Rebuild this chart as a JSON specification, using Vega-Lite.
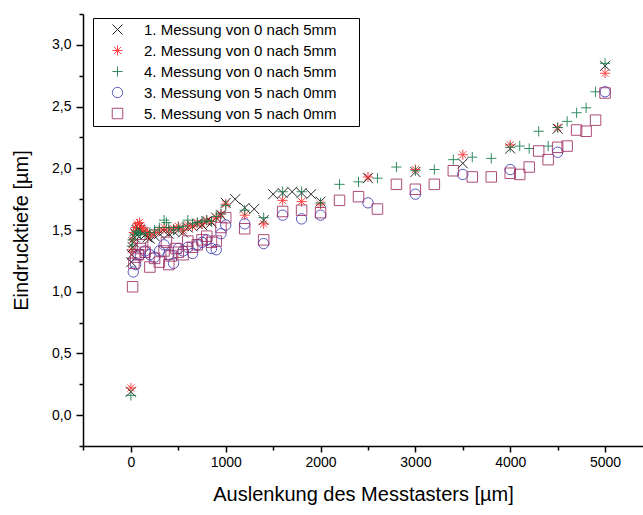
{
  "$schema": "https://vega.github.io/schema/vega-lite/v6.json",
  "width": 560,
  "height": 432,
  "autosize": "none",
  "padding": {"left": 83, "top": 14, "right": 0, "bottom": 69},
  "background": "white",
  "config": {
    "view": {"stroke": null},
    "font": "Liberation Sans"
  },
  "datasets": {
    "pts": [
      {"series": "1. Messung von 0 nach 5mm", "x": 0, "y": 0.19},
      {"series": "1. Messung von 0 nach 5mm", "x": 5, "y": 1.24},
      {"series": "1. Messung von 0 nach 5mm", "x": 10, "y": 1.30},
      {"series": "1. Messung von 0 nach 5mm", "x": 20, "y": 1.36},
      {"series": "1. Messung von 0 nach 5mm", "x": 30, "y": 1.40},
      {"series": "1. Messung von 0 nach 5mm", "x": 40, "y": 1.44},
      {"series": "1. Messung von 0 nach 5mm", "x": 50, "y": 1.47},
      {"series": "1. Messung von 0 nach 5mm", "x": 60, "y": 1.50},
      {"series": "1. Messung von 0 nach 5mm", "x": 80, "y": 1.52},
      {"series": "1. Messung von 0 nach 5mm", "x": 100, "y": 1.50},
      {"series": "1. Messung von 0 nach 5mm", "x": 125, "y": 1.48},
      {"series": "1. Messung von 0 nach 5mm", "x": 150, "y": 1.46},
      {"series": "1. Messung von 0 nach 5mm", "x": 175, "y": 1.44},
      {"series": "1. Messung von 0 nach 5mm", "x": 200, "y": 1.43},
      {"series": "1. Messung von 0 nach 5mm", "x": 250, "y": 1.45},
      {"series": "1. Messung von 0 nach 5mm", "x": 300, "y": 1.47},
      {"series": "1. Messung von 0 nach 5mm", "x": 350, "y": 1.49},
      {"series": "1. Messung von 0 nach 5mm", "x": 400, "y": 1.47},
      {"series": "1. Messung von 0 nach 5mm", "x": 450, "y": 1.49},
      {"series": "1. Messung von 0 nach 5mm", "x": 500, "y": 1.50},
      {"series": "1. Messung von 0 nach 5mm", "x": 550, "y": 1.48},
      {"series": "1. Messung von 0 nach 5mm", "x": 600, "y": 1.52},
      {"series": "1. Messung von 0 nach 5mm", "x": 650, "y": 1.53},
      {"series": "1. Messung von 0 nach 5mm", "x": 700, "y": 1.55},
      {"series": "1. Messung von 0 nach 5mm", "x": 750, "y": 1.54},
      {"series": "1. Messung von 0 nach 5mm", "x": 800, "y": 1.57},
      {"series": "1. Messung von 0 nach 5mm", "x": 850, "y": 1.56},
      {"series": "1. Messung von 0 nach 5mm", "x": 900, "y": 1.60},
      {"series": "1. Messung von 0 nach 5mm", "x": 950, "y": 1.62},
      {"series": "1. Messung von 0 nach 5mm", "x": 1000, "y": 1.72},
      {"series": "1. Messung von 0 nach 5mm", "x": 1100, "y": 1.75},
      {"series": "1. Messung von 0 nach 5mm", "x": 1200, "y": 1.68},
      {"series": "1. Messung von 0 nach 5mm", "x": 1300, "y": 1.67},
      {"series": "1. Messung von 0 nach 5mm", "x": 1400, "y": 1.58},
      {"series": "1. Messung von 0 nach 5mm", "x": 1500, "y": 1.79},
      {"series": "1. Messung von 0 nach 5mm", "x": 1600, "y": 1.80},
      {"series": "1. Messung von 0 nach 5mm", "x": 1700, "y": 1.81},
      {"series": "1. Messung von 0 nach 5mm", "x": 1800, "y": 1.80},
      {"series": "1. Messung von 0 nach 5mm", "x": 1900, "y": 1.79},
      {"series": "1. Messung von 0 nach 5mm", "x": 2000, "y": 1.73},
      {"series": "1. Messung von 0 nach 5mm", "x": 2500, "y": 1.92},
      {"series": "1. Messung von 0 nach 5mm", "x": 3000, "y": 1.97},
      {"series": "1. Messung von 0 nach 5mm", "x": 3500, "y": 2.04},
      {"series": "1. Messung von 0 nach 5mm", "x": 4000, "y": 2.16},
      {"series": "1. Messung von 0 nach 5mm", "x": 4500, "y": 2.32},
      {"series": "1. Messung von 0 nach 5mm", "x": 5000, "y": 2.83},

      {"series": "2. Messung von 0 nach 5mm", "x": 0, "y": 0.22},
      {"series": "2. Messung von 0 nach 5mm", "x": 10, "y": 1.34},
      {"series": "2. Messung von 0 nach 5mm", "x": 20, "y": 1.42},
      {"series": "2. Messung von 0 nach 5mm", "x": 30, "y": 1.48},
      {"series": "2. Messung von 0 nach 5mm", "x": 50, "y": 1.52},
      {"series": "2. Messung von 0 nach 5mm", "x": 70, "y": 1.55},
      {"series": "2. Messung von 0 nach 5mm", "x": 90, "y": 1.56},
      {"series": "2. Messung von 0 nach 5mm", "x": 110, "y": 1.52},
      {"series": "2. Messung von 0 nach 5mm", "x": 130, "y": 1.50},
      {"series": "2. Messung von 0 nach 5mm", "x": 150, "y": 1.49},
      {"series": "2. Messung von 0 nach 5mm", "x": 175, "y": 1.47},
      {"series": "2. Messung von 0 nach 5mm", "x": 200, "y": 1.46},
      {"series": "2. Messung von 0 nach 5mm", "x": 250, "y": 1.48},
      {"series": "2. Messung von 0 nach 5mm", "x": 300, "y": 1.50},
      {"series": "2. Messung von 0 nach 5mm", "x": 350, "y": 1.52},
      {"series": "2. Messung von 0 nach 5mm", "x": 400, "y": 1.50},
      {"series": "2. Messung von 0 nach 5mm", "x": 450, "y": 1.51},
      {"series": "2. Messung von 0 nach 5mm", "x": 500, "y": 1.53},
      {"series": "2. Messung von 0 nach 5mm", "x": 550, "y": 1.50},
      {"series": "2. Messung von 0 nach 5mm", "x": 600, "y": 1.54},
      {"series": "2. Messung von 0 nach 5mm", "x": 650, "y": 1.53},
      {"series": "2. Messung von 0 nach 5mm", "x": 700, "y": 1.56},
      {"series": "2. Messung von 0 nach 5mm", "x": 750, "y": 1.55},
      {"series": "2. Messung von 0 nach 5mm", "x": 800, "y": 1.58},
      {"series": "2. Messung von 0 nach 5mm", "x": 850, "y": 1.57},
      {"series": "2. Messung von 0 nach 5mm", "x": 900, "y": 1.60},
      {"series": "2. Messung von 0 nach 5mm", "x": 950, "y": 1.63},
      {"series": "2. Messung von 0 nach 5mm", "x": 1000, "y": 1.71},
      {"series": "2. Messung von 0 nach 5mm", "x": 1200, "y": 1.62},
      {"series": "2. Messung von 0 nach 5mm", "x": 1400, "y": 1.55},
      {"series": "2. Messung von 0 nach 5mm", "x": 1600, "y": 1.74},
      {"series": "2. Messung von 0 nach 5mm", "x": 1800, "y": 1.73},
      {"series": "2. Messung von 0 nach 5mm", "x": 2000, "y": 1.71},
      {"series": "2. Messung von 0 nach 5mm", "x": 2500, "y": 1.93},
      {"series": "2. Messung von 0 nach 5mm", "x": 3000, "y": 1.99},
      {"series": "2. Messung von 0 nach 5mm", "x": 3500, "y": 2.11},
      {"series": "2. Messung von 0 nach 5mm", "x": 4000, "y": 2.19},
      {"series": "2. Messung von 0 nach 5mm", "x": 4500, "y": 2.33},
      {"series": "2. Messung von 0 nach 5mm", "x": 5000, "y": 2.77},

      {"series": "4. Messung von 0 nach 5mm", "x": 0, "y": 0.16},
      {"series": "4. Messung von 0 nach 5mm", "x": 10, "y": 1.37},
      {"series": "4. Messung von 0 nach 5mm", "x": 20, "y": 1.42},
      {"series": "4. Messung von 0 nach 5mm", "x": 40, "y": 1.46},
      {"series": "4. Messung von 0 nach 5mm", "x": 60, "y": 1.49},
      {"series": "4. Messung von 0 nach 5mm", "x": 80, "y": 1.48},
      {"series": "4. Messung von 0 nach 5mm", "x": 100, "y": 1.47},
      {"series": "4. Messung von 0 nach 5mm", "x": 150, "y": 1.46},
      {"series": "4. Messung von 0 nach 5mm", "x": 200, "y": 1.48},
      {"series": "4. Messung von 0 nach 5mm", "x": 250, "y": 1.50},
      {"series": "4. Messung von 0 nach 5mm", "x": 300, "y": 1.52},
      {"series": "4. Messung von 0 nach 5mm", "x": 350, "y": 1.58},
      {"series": "4. Messung von 0 nach 5mm", "x": 375, "y": 1.56},
      {"series": "4. Messung von 0 nach 5mm", "x": 400, "y": 1.52},
      {"series": "4. Messung von 0 nach 5mm", "x": 450, "y": 1.50},
      {"series": "4. Messung von 0 nach 5mm", "x": 500, "y": 1.52},
      {"series": "4. Messung von 0 nach 5mm", "x": 550, "y": 1.53},
      {"series": "4. Messung von 0 nach 5mm", "x": 600, "y": 1.58},
      {"series": "4. Messung von 0 nach 5mm", "x": 650, "y": 1.55},
      {"series": "4. Messung von 0 nach 5mm", "x": 700, "y": 1.56},
      {"series": "4. Messung von 0 nach 5mm", "x": 750, "y": 1.57},
      {"series": "4. Messung von 0 nach 5mm", "x": 800, "y": 1.58},
      {"series": "4. Messung von 0 nach 5mm", "x": 850, "y": 1.57},
      {"series": "4. Messung von 0 nach 5mm", "x": 900, "y": 1.61},
      {"series": "4. Messung von 0 nach 5mm", "x": 950, "y": 1.63},
      {"series": "4. Messung von 0 nach 5mm", "x": 1000, "y": 1.70},
      {"series": "4. Messung von 0 nach 5mm", "x": 1200, "y": 1.66},
      {"series": "4. Messung von 0 nach 5mm", "x": 1400, "y": 1.60},
      {"series": "4. Messung von 0 nach 5mm", "x": 1600, "y": 1.81},
      {"series": "4. Messung von 0 nach 5mm", "x": 1800, "y": 1.81},
      {"series": "4. Messung von 0 nach 5mm", "x": 2000, "y": 1.72},
      {"series": "4. Messung von 0 nach 5mm", "x": 2200, "y": 1.87},
      {"series": "4. Messung von 0 nach 5mm", "x": 2400, "y": 1.89},
      {"series": "4. Messung von 0 nach 5mm", "x": 2600, "y": 1.92},
      {"series": "4. Messung von 0 nach 5mm", "x": 2800, "y": 2.01},
      {"series": "4. Messung von 0 nach 5mm", "x": 3000, "y": 1.98},
      {"series": "4. Messung von 0 nach 5mm", "x": 3200, "y": 1.99},
      {"series": "4. Messung von 0 nach 5mm", "x": 3400, "y": 2.07},
      {"series": "4. Messung von 0 nach 5mm", "x": 3600, "y": 2.09},
      {"series": "4. Messung von 0 nach 5mm", "x": 3800, "y": 2.08},
      {"series": "4. Messung von 0 nach 5mm", "x": 4000, "y": 2.17},
      {"series": "4. Messung von 0 nach 5mm", "x": 4100, "y": 2.18},
      {"series": "4. Messung von 0 nach 5mm", "x": 4200, "y": 2.16},
      {"series": "4. Messung von 0 nach 5mm", "x": 4300, "y": 2.30},
      {"series": "4. Messung von 0 nach 5mm", "x": 4400, "y": 2.18},
      {"series": "4. Messung von 0 nach 5mm", "x": 4500, "y": 2.33},
      {"series": "4. Messung von 0 nach 5mm", "x": 4600, "y": 2.38},
      {"series": "4. Messung von 0 nach 5mm", "x": 4700, "y": 2.45},
      {"series": "4. Messung von 0 nach 5mm", "x": 4800, "y": 2.49},
      {"series": "4. Messung von 0 nach 5mm", "x": 4900, "y": 2.62},
      {"series": "4. Messung von 0 nach 5mm", "x": 5000, "y": 2.85},

      {"series": "3. Messung von 5 nach 0mm", "x": 25, "y": 1.16},
      {"series": "3. Messung von 5 nach 0mm", "x": 50, "y": 1.22},
      {"series": "3. Messung von 5 nach 0mm", "x": 100, "y": 1.30},
      {"series": "3. Messung von 5 nach 0mm", "x": 150, "y": 1.33},
      {"series": "3. Messung von 5 nach 0mm", "x": 200, "y": 1.30},
      {"series": "3. Messung von 5 nach 0mm", "x": 250, "y": 1.28},
      {"series": "3. Messung von 5 nach 0mm", "x": 300, "y": 1.33},
      {"series": "3. Messung von 5 nach 0mm", "x": 350, "y": 1.38},
      {"series": "3. Messung von 5 nach 0mm", "x": 400, "y": 1.30},
      {"series": "3. Messung von 5 nach 0mm", "x": 450, "y": 1.23},
      {"series": "3. Messung von 5 nach 0mm", "x": 500, "y": 1.35},
      {"series": "3. Messung von 5 nach 0mm", "x": 550, "y": 1.33},
      {"series": "3. Messung von 5 nach 0mm", "x": 600, "y": 1.36},
      {"series": "3. Messung von 5 nach 0mm", "x": 650, "y": 1.31},
      {"series": "3. Messung von 5 nach 0mm", "x": 700, "y": 1.38},
      {"series": "3. Messung von 5 nach 0mm", "x": 750, "y": 1.40},
      {"series": "3. Messung von 5 nach 0mm", "x": 800, "y": 1.42},
      {"series": "3. Messung von 5 nach 0mm", "x": 850, "y": 1.35},
      {"series": "3. Messung von 5 nach 0mm", "x": 900, "y": 1.34},
      {"series": "3. Messung von 5 nach 0mm", "x": 950, "y": 1.47},
      {"series": "3. Messung von 5 nach 0mm", "x": 1000, "y": 1.54},
      {"series": "3. Messung von 5 nach 0mm", "x": 1200, "y": 1.55},
      {"series": "3. Messung von 5 nach 0mm", "x": 1400, "y": 1.39},
      {"series": "3. Messung von 5 nach 0mm", "x": 1600, "y": 1.62},
      {"series": "3. Messung von 5 nach 0mm", "x": 1800, "y": 1.59},
      {"series": "3. Messung von 5 nach 0mm", "x": 2000, "y": 1.62},
      {"series": "3. Messung von 5 nach 0mm", "x": 2500, "y": 1.72},
      {"series": "3. Messung von 5 nach 0mm", "x": 3000, "y": 1.79},
      {"series": "3. Messung von 5 nach 0mm", "x": 3500, "y": 1.95},
      {"series": "3. Messung von 5 nach 0mm", "x": 4000, "y": 1.99},
      {"series": "3. Messung von 5 nach 0mm", "x": 4500, "y": 2.13},
      {"series": "3. Messung von 5 nach 0mm", "x": 5000, "y": 2.62},

      {"series": "5. Messung von 5 nach 0mm", "x": 18, "y": 1.04},
      {"series": "5. Messung von 5 nach 0mm", "x": 32, "y": 1.23},
      {"series": "5. Messung von 5 nach 0mm", "x": 50, "y": 1.28},
      {"series": "5. Messung von 5 nach 0mm", "x": 77, "y": 1.30},
      {"series": "5. Messung von 5 nach 0mm", "x": 100, "y": 1.35},
      {"series": "5. Messung von 5 nach 0mm", "x": 123, "y": 1.38},
      {"series": "5. Messung von 5 nach 0mm", "x": 150, "y": 1.32},
      {"series": "5. Messung von 5 nach 0mm", "x": 200, "y": 1.20},
      {"series": "5. Messung von 5 nach 0mm", "x": 250, "y": 1.27},
      {"series": "5. Messung von 5 nach 0mm", "x": 300, "y": 1.24},
      {"series": "5. Messung von 5 nach 0mm", "x": 350, "y": 1.33},
      {"series": "5. Messung von 5 nach 0mm", "x": 375, "y": 1.40},
      {"series": "5. Messung von 5 nach 0mm", "x": 400, "y": 1.22},
      {"series": "5. Messung von 5 nach 0mm", "x": 425, "y": 1.29},
      {"series": "5. Messung von 5 nach 0mm", "x": 475, "y": 1.35},
      {"series": "5. Messung von 5 nach 0mm", "x": 500, "y": 1.32},
      {"series": "5. Messung von 5 nach 0mm", "x": 550, "y": 1.30},
      {"series": "5. Messung von 5 nach 0mm", "x": 600, "y": 1.41},
      {"series": "5. Messung von 5 nach 0mm", "x": 650, "y": 1.36},
      {"series": "5. Messung von 5 nach 0mm", "x": 700, "y": 1.38},
      {"series": "5. Messung von 5 nach 0mm", "x": 750, "y": 1.42},
      {"series": "5. Messung von 5 nach 0mm", "x": 800, "y": 1.45},
      {"series": "5. Messung von 5 nach 0mm", "x": 850, "y": 1.40},
      {"series": "5. Messung von 5 nach 0mm", "x": 900, "y": 1.41},
      {"series": "5. Messung von 5 nach 0mm", "x": 950, "y": 1.52},
      {"series": "5. Messung von 5 nach 0mm", "x": 1000, "y": 1.60},
      {"series": "5. Messung von 5 nach 0mm", "x": 1200, "y": 1.51},
      {"series": "5. Messung von 5 nach 0mm", "x": 1400, "y": 1.42},
      {"series": "5. Messung von 5 nach 0mm", "x": 1600, "y": 1.65},
      {"series": "5. Messung von 5 nach 0mm", "x": 1800, "y": 1.66},
      {"series": "5. Messung von 5 nach 0mm", "x": 2000, "y": 1.64},
      {"series": "5. Messung von 5 nach 0mm", "x": 2200, "y": 1.74},
      {"series": "5. Messung von 5 nach 0mm", "x": 2400, "y": 1.77},
      {"series": "5. Messung von 5 nach 0mm", "x": 2600, "y": 1.67},
      {"series": "5. Messung von 5 nach 0mm", "x": 2800, "y": 1.87},
      {"series": "5. Messung von 5 nach 0mm", "x": 3000, "y": 1.83},
      {"series": "5. Messung von 5 nach 0mm", "x": 3200, "y": 1.87},
      {"series": "5. Messung von 5 nach 0mm", "x": 3400, "y": 1.98},
      {"series": "5. Messung von 5 nach 0mm", "x": 3600, "y": 1.93},
      {"series": "5. Messung von 5 nach 0mm", "x": 3800, "y": 1.93},
      {"series": "5. Messung von 5 nach 0mm", "x": 4000, "y": 1.96},
      {"series": "5. Messung von 5 nach 0mm", "x": 4100, "y": 1.95},
      {"series": "5. Messung von 5 nach 0mm", "x": 4200, "y": 2.01},
      {"series": "5. Messung von 5 nach 0mm", "x": 4300, "y": 2.14},
      {"series": "5. Messung von 5 nach 0mm", "x": 4400, "y": 2.07},
      {"series": "5. Messung von 5 nach 0mm", "x": 4500, "y": 2.17},
      {"series": "5. Messung von 5 nach 0mm", "x": 4600, "y": 2.18},
      {"series": "5. Messung von 5 nach 0mm", "x": 4700, "y": 2.31},
      {"series": "5. Messung von 5 nach 0mm", "x": 4800, "y": 2.30},
      {"series": "5. Messung von 5 nach 0mm", "x": 4900, "y": 2.39},
      {"series": "5. Messung von 5 nach 0mm", "x": 5000, "y": 2.61}
    ]
  },
  "data": {"name": "pts"},
  "mark": {"type": "point", "filled": false, "strokeWidth": 1, "opacity": 0.85, "clip": false},
  "encoding": {
    "x": {
      "field": "x", "type": "quantitative",
      "scale": {"domain": [-505, 5400], "nice": false, "zero": false},
      "axis": {
        "orient": "bottom",
        "values": [-500, 0, 500, 1000, 1500, 2000, 2500, 3000, 3500, 4000, 4500, 5000],
        "format": "d",
        "labelExpr": "datum.value % 1000 === 0 ? datum.label : ''",
        "tickSize": {"condition": {"test": "datum.value % 1000 === 0", "value": 6}, "value": 4},
        "tickColor": "black", "tickWidth": 1.5,
        "domainColor": "black", "domainWidth": 1.5,
        "grid": false,
        "labelFont": "Liberation Sans", "labelFontSize": 14, "labelColor": "black", "labelPadding": 3,
        "labelFlush": false, "labelOverlap": false,
        "title": "Auslenkung des Messtasters [µm]",
        "titleFont": "Liberation Sans", "titleFontSize": 20, "titleFontWeight": "normal", "titleColor": "black",
        "titlePadding": 15
      }
    },
    "y": {
      "field": "y", "type": "quantitative",
      "scale": {"domain": [-0.25, 3.25], "nice": false, "zero": false},
      "axis": {
        "orient": "left",
        "values": [-0.25, 0, 0.25, 0.5, 0.75, 1, 1.25, 1.5, 1.75, 2, 2.25, 2.5, 2.75, 3, 3.25],
        "labelExpr": "abs(datum.value * 2 - round(datum.value * 2)) < 0.001 ? replace(format(datum.value, '.1f'), '.', ',') : ''",
        "tickSize": {"condition": {"test": "abs(datum.value * 2 - round(datum.value * 2)) < 0.001", "value": 7}, "value": 4},
        "tickColor": "black", "tickWidth": 1.5,
        "domainColor": "black", "domainWidth": 1.5,
        "grid": false,
        "labelFont": "Liberation Sans", "labelFontSize": 14, "labelColor": "black", "labelPadding": 5,
        "labelFlush": false, "labelOverlap": false,
        "title": "Eindrucktiefe [µm]",
        "titleFont": "Liberation Sans", "titleFontSize": 20, "titleFontWeight": "normal", "titleColor": "black",
        "titlePadding": 20
      }
    },
    "shape": {
      "field": "series", "type": "nominal",
      "scale": {
        "domain": ["1. Messung von 0 nach 5mm", "2. Messung von 0 nach 5mm", "4. Messung von 0 nach 5mm", "3. Messung von 5 nach 0mm", "5. Messung von 5 nach 0mm"],
        "range": ["M-1,-1L1,1M1,-1L-1,1", "M0,-1L0,1M-1,0L1,0M-0.7,-0.7L0.7,0.7M-0.7,0.7L0.7,-0.7", "M-1,0L1,0M0,-1L0,1", "circle", "square"]
      },
      "legend": {
        "orient": "none", "legendX": 10, "legendY": 4,
        "title": " ", "titleOrient": "right", "titlePadding": 18, "titleFontSize": 6,
        "strokeColor": "black", "fillColor": "white",
        "padding": 4, "symbolOffset": 13, "labelOffset": 19, "rowPadding": 5,
        "labelFont": "Liberation Sans", "labelFontSize": 15, "labelColor": "black", "labelLimit": 400,
        "symbolStrokeWidth": 1, "symbolOpacity": 0.9
      }
    },
    "color": {
      "field": "series", "type": "nominal",
      "scale": {
        "domain": ["1. Messung von 0 nach 5mm", "2. Messung von 0 nach 5mm", "4. Messung von 0 nach 5mm", "3. Messung von 5 nach 0mm", "5. Messung von 5 nach 0mm"],
        "range": ["#000000", "#ff2a2a", "#117a4a", "#3c3cb4", "#9e2e63"]
      }
    },
    "size": {
      "field": "series", "type": "nominal",
      "scale": {
        "domain": ["1. Messung von 0 nach 5mm", "2. Messung von 0 nach 5mm", "4. Messung von 0 nach 5mm", "3. Messung von 5 nach 0mm", "5. Messung von 5 nach 0mm"],
        "range": [100, 110, 90, 70, 72]
      }
    }
  }
}
